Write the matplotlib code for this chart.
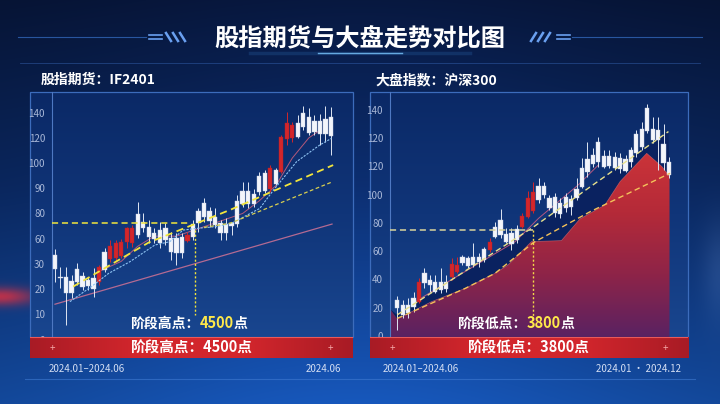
import numpy as np
import matplotlib
matplotlib.use("Agg")
import matplotlib.pyplot as plt
from matplotlib.patches import Rectangle, Polygon
from matplotlib.colors import LinearSegmentedColormap, to_rgb

plt.rcParams['font.family'] = ['Noto Sans CJK SC', 'DejaVu Sans']

W, H = 720, 404

# -----------------------------
# data
# -----------------------------
title = "股指期货与大盘走势对比图"
left_name = "股指期货：IF2401"
right_name = "大盘指数：沪深300"

# left panel: IF2401 candles (axis position units, 10 per tick)
fut_ticks = ['0', '10', '20', '30', '60', '80', '90', '100', '120', '140']
fut_open = [33.5, 24.9, 24.9, 23.2, 28.0, 25.3, 23.6, 24.5, 22.9, 34.8, 31.8, 32.2, 33.3, 38.5, 38.1,
            49.7, 46.5, 44.8, 42.4, 43.4, 44.1, 40.1, 40.1, 40.8, 39.1, 45.7, 51.0, 54.0, 51.0, 48.7,
            46.3, 45.7, 46.3, 55.0, 59.0, 59.0, 57.7, 64.9, 66.2, 59.6, 67.2, 66.6, 79.4, 79.8, 86.0,
            89.7, 88.1, 86.7, 86.7, 87.5, 88.1]
fut_close = [27.8, 24.3, 18.3, 18.3, 22.7, 21.0, 21.3, 20.0, 28.9, 27.6, 37.1, 38.1, 38.5, 44.1, 44.1,
             41.5, 44.1, 40.8, 39.9, 38.1, 39.5, 34.8, 34.4, 34.2, 41.5, 40.8, 46.1, 48.7, 47.0, 45.4,
             42.1, 42.1, 45.2, 45.7, 53.6, 53.6, 53.8, 58.7, 59.0, 67.9, 61.7, 80.5, 86.0, 85.1, 80.5,
             84.4, 81.8, 82.5, 81.4, 81.4, 80.7]
fut_high = [35.9, 28.9, 28.9, 25.6, 30.5, 26.9, 24.9, 28.5, 29.5, 36.4, 39.5, 39.5, 39.9, 44.8, 45.4,
            54.4, 50.1, 47.4, 44.1, 46.7, 46.1, 42.8, 42.1, 42.1, 42.8, 47.4, 52.3, 56.3, 52.7, 52.0,
            47.4, 48.1, 46.7, 57.3, 62.6, 62.6, 59.7, 66.3, 67.2, 69.2, 67.9, 81.1, 90.1, 86.4, 89.1,
            92.8, 91.7, 89.1, 89.3, 92.8, 92.4]
fut_low = [22.9, 20.3, 5.7, 16.3, 21.6, 19.6, 19.6, 17.0, 21.6, 26.9, 30.9, 30.9, 32.2, 36.2, 36.8,
           40.1, 42.8, 38.1, 38.1, 36.2, 37.5, 31.5, 29.5, 32.2, 38.8, 39.5, 42.8, 46.7, 44.8, 44.1,
           39.5, 39.5, 41.5, 44.8, 52.7, 52.0, 52.7, 57.3, 58.0, 58.7, 61.3, 65.9, 77.2, 78.5, 79.8,
           83.1, 81.1, 81.1, 77.2, 78.5, 73.2]
fut_trend_x = [3.3, 17, 31.7, 50.4]
fut_trend_y = [21.0, 38.5, 51.4, 69.2]
fut_trend2_x = [27, 31.7, 50.2]
fut_trend2_y = [44.5, 46.1, 62.5]
fut_ma_x = [2.7, 6.6, 9.7, 13.6, 18.1, 20.8, 23.2, 25.7, 29.3, 32.0, 37.1, 39.6, 43.8, 48.0, 50.1]
fut_ma_y = [15.0, 21.0, 26.2, 30.9, 37.5, 38.8, 43.4, 44.1, 44.8, 46.1, 52.0, 59.3, 70.6, 77.2, 79.8]
fut_ma2_x = [8, 12, 15, 18, 22, 26, 30, 34, 37, 40, 43, 46, 48]
fut_ma2_y = [27, 31, 37, 41, 41, 44, 47, 50, 55, 61, 72, 80, 83]
fut_long_x = [0, 50.2]
fut_long_y = [14.0, 45.8]
fut_level = 46.3
fut_mark_x = 25.4

# right panel: CSI 300 candles (axis position units, 20 per tick)
idx_ticks = ['0', '20', '40', '60', '80', '100', '120', '120', '140']
idx_open = [25.5, 21.9, 21.9, 26.7, 24.3, 44.4, 39.6, 38.5, 38.5, 38.0, 41.5, 45.5, 56.2, 55.4, 56.2,
            56.2, 61.4, 60.9, 77.4, 82.1, 72.2, 72.7, 75.7, 77.4, 84.5, 88.5, 106.4, 106.2, 97.9, 98.6,
            93.9, 98.6, 96.8, 104.1, 119.2, 125.3, 128.1, 137.6, 127.2, 127.2, 127.0, 126.2, 125.3,
            131.7, 142.8, 146.5, 161.2, 146.5, 145.8, 135.7, 123.4]
idx_close = [19.6, 14.9, 16.0, 20.8, 38.0, 37.3, 36.1, 31.4, 32.6, 33.3, 50.7, 50.3, 51.4, 49.8, 50.3,
             52.6, 53.8, 66.8, 70.3, 71.5, 66.8, 64.9, 68.0, 84.9, 97.5, 102.2, 96.3, 99.8, 90.9, 86.8,
             86.1, 90.9, 91.6, 97.5, 105.7, 115.9, 121.5, 122.9, 119.9, 120.6, 119.2, 118.2, 116.8,
             123.4, 129.3, 134.0, 145.1, 138.8, 138.8, 122.2, 114.0]
idx_high = [28.5, 25.5, 26.7, 31.4, 40.8, 48.4, 43.2, 43.2, 47.9, 43.2, 55.4, 56.2, 57.3, 56.9, 66.1,
            58.5, 63.2, 69.1, 80.9, 89.9, 76.2, 76.2, 78.6, 86.8, 102.7, 109.3, 111.6, 109.3, 99.8,
            101.0, 97.5, 101.0, 99.8, 111.6, 125.8, 137.6, 132.9, 141.1, 131.7, 131.7, 130.5, 129.3,
            128.1, 134.0, 145.8, 151.7, 164.0, 155.3, 155.3, 149.8, 127.0]
idx_low = [4.2, 12.5, 12.5, 17.2, 23.1, 33.7, 31.4, 30.2, 30.2, 31.4, 39.6, 44.4, 50.3, 48.4, 49.1,
           49.1, 52.6, 59.7, 69.1, 69.1, 65.6, 60.9, 65.6, 76.2, 83.3, 86.8, 93.9, 97.5, 89.2, 84.5,
           83.3, 88.0, 85.7, 96.3, 104.5, 112.8, 119.9, 119.9, 118.7, 118.7, 117.5, 115.2, 115.9,
           119.9, 127.0, 131.7, 143.5, 136.4, 117.5, 117.5, 111.6]
idx_area_x = [-1.35, 0, 6.3, 12.5, 18, 20.4, 24.7, 30.2, 33.6, 38.2, 41, 45.9, 48.7, 50.1]
idx_area_y = [19, 12, 24.3, 33.7, 44.4, 50.3, 66.8, 67.5, 82.8, 92.7, 109.3, 129.3, 119.9, 113]
idx_up_x = [0, 25, 49.9]
idx_up_y = [15.0, 77.0, 144.7]
idx_lo_x = [0, 12.5, 18, 25, 35.5, 50.2]
idx_lo_y = [12.5, 33.7, 44.4, 66.0, 88.0, 115.2]
idx_ma_x = [3.3, 9.4, 15.5, 21.7, 26, 33.3, 37]
idx_ma_y = [24.3, 38.5, 52.6, 66.8, 83.3, 106.9, 121]
idx_level = 75.0
idx_mark_x = 25.0

fut_label = ("阶段高点：", "4500", "点")
idx_label = ("阶段低点：", "3800", "点")
date_left = ("2024.01–2024.06", "2024.06")
date_right = ("2024.01–2024.06", "2024.01 · 2024.12")

UP = '#d3262b'
DOWN = '#f3f5fb'
YEL = '#f2e53c'


def px(x0, y0, x1, y1):
    return [x0 / W, 1 - y1 / H, (x1 - x0) / W, (y1 - y0) / H]


def draw_candles(ax, o, c, hi, lo):
    x = np.arange(len(o))
    o = np.array(o); c = np.array(c)
    up = c >= o
    cols = np.where(up, UP, DOWN)
    ax.vlines(x, lo, hi, colors=np.where(up, UP, '#dfe6f3'), lw=0.7, zorder=3)
    ax.bar(x, np.maximum(np.abs(c - o), 0.5), bottom=np.minimum(o, c), width=0.78,
           color=cols, edgecolor=np.where(up, '#b81e24', '#c9d2e4'), lw=0.3, zorder=3)


def panel_bg(x0, x1):
    pa = fig.add_axes(px(x0, 92, x1, 337))
    cmap = LinearSegmentedColormap.from_list('pn', ['#0b2966', '#103579', '#19468f'])
    pa.imshow(np.linspace(0, 1, 256)[:, None], aspect='auto', cmap=cmap,
              extent=[0, 1, 0, 1], origin='upper')
    pa.set_xlim(0, 1); pa.set_ylim(0, 1); pa.axis('off')
    pa.add_patch(Rectangle((0, 0), 1, 1, fill=False, ec='#3c6cbc', lw=0.9,
                           transform=pa.transAxes, clip_on=False))


def style_axes(ax, ticks, step, xlim, ylim):
    ax.patch.set_alpha(0)
    for s in ['top', 'right', 'bottom']:
        ax.spines[s].set_visible(False)
    ax.spines['left'].set_color('#4e78c2')
    ax.spines['left'].set_linewidth(0.8)
    ax.set_xlim(*xlim); ax.set_ylim(*ylim)
    ax.set_xticks([])
    ax.set_yticks(np.arange(len(ticks)) * step)
    ax.set_yticklabels(ticks)
    ax.tick_params(axis='y', length=0, pad=5, labelsize=7, labelcolor='#a9b8d8')


def mixed_label(ax, x, y, parts):
    t1 = ax.text(x, y, parts[0], transform=bg.transData, ha='left', va='center',
                 fontsize=10, weight='bold', color='white', zorder=6, clip_on=False)
    t2 = ax.annotate(parts[1], xy=(1, 0), xycoords=t1, ha='left', va='bottom',
                     fontsize=10.5, weight='bold', color='#ffe94a', zorder=6)
    ax.annotate(parts[2], xy=(1, 0), xycoords=t2, ha='left', va='bottom',
                fontsize=10, weight='bold', color='white', zorder=6)


def banner(x0, x1, text):
    ba = fig.add_axes(px(x0, 337, x1, 358))
    cmap = LinearSegmentedColormap.from_list('bn', ['#a81b25', '#d2262c', '#d2262c', '#a81b25'])
    ba.imshow(np.linspace(0, 1, 256)[None, :], aspect='auto', cmap=cmap, extent=[0, 1, 0, 1])
    ba.set_xlim(0, 1); ba.set_ylim(0, 1); ba.axis('off')
    ba.axhline(0.98, color='#e85a5a', lw=0.8)
    ba.text(0.5, 0.5, text, ha='center', va='center', fontsize=10.5, weight='bold', color='white')
    ba.text(0.07, 0.48, '+', ha='center', va='center', fontsize=7, color='#f3a3a3')
    ba.text(0.93, 0.48, '+', ha='center', va='center', fontsize=7, color='#f3a3a3')


fig = plt.figure(figsize=(7.2, 4.04), dpi=100)

# -----------------------------
# background
# -----------------------------
bg = fig.add_axes([0, 0, 1, 1])
yy, xx = np.mgrid[0:H, 0:W]
t = (yy / H)[..., None]
top = np.array(to_rgb('#07163a')); mid = np.array(to_rgb('#0b2a66')); bot = np.array(to_rgb('#1550ab'))
base = np.where(t < 0.45, top + (mid - top) * (t / 0.45), mid + (bot - mid) * ((t - 0.45) / 0.55))
base = base * (0.85 + 0.25 * np.exp(-((xx - 360) / 300.0) ** 2))[..., None]
glow = np.exp(-(xx / 35.0) ** 2 - ((yy - 296) / 9.0) ** 2)[..., None]
base = base + glow * (np.array(to_rgb('#e03040')) - base) * 0.8
base = base + np.exp(-((xx - 720) / 18.0) ** 2 - ((yy - 270) / 50.0) ** 2)[..., None] * 0.08
bg.imshow(np.clip(base, 0, 1), extent=[0, W, H, 0], aspect='auto')
bg.set_xlim(0, W); bg.set_ylim(H, 0); bg.axis('off')

# title and decorations
bg.text(360, 38, title, ha='center', va='center', fontsize=17.5, weight='bold', color='white')
bg.plot([18, 146], [37, 37], color='#3f7fe0', lw=0.8, alpha=0.6)
bg.plot([572, 702], [37, 37], color='#3f7fe0', lw=0.8, alpha=0.6)
for yv in (35.3, 38.7):
    bg.plot([149, 162], [yv, yv], color='#6aa0f0', lw=1.2)
    bg.plot([557, 570], [yv, yv], color='#6aa0f0', lw=1.2)
for xv in (166, 173, 180):
    bg.plot([xv, xv + 5], [33, 41], color='#6aa0f0', lw=1.8)
for xv in (531, 538, 545):
    bg.plot([xv + 5, xv], [33, 41], color='#6aa0f0', lw=1.8)
bg.plot([250, 470], [53, 53], color='#4aa8ff', lw=2.5, alpha=0.15)
bg.plot([318, 402], [53, 53], color='#7cc8ff', lw=1.0, alpha=0.8)
bg.plot([20, 700], [63, 63], color='#3f72c8', lw=0.6, alpha=0.45)
bg.plot([25, 695], [379, 379], color='#3f7ad2', lw=0.8, alpha=0.6)

bg.text(41, 80, left_name, ha='left', va='center', fontsize=10, weight='bold', color='white')
bg.text(376, 80, right_name, ha='left', va='center', fontsize=10, weight='bold', color='white')

bg.text(49, 369, date_left[0], ha='left', va='center', fontsize=7, color='#d3def3')
bg.text(341, 369, date_left[1], ha='right', va='center', fontsize=7, color='#d3def3')
bg.text(383, 369, date_right[0], ha='left', va='center', fontsize=7, color='#d3def3')
bg.text(681, 369, date_right[1], ha='right', va='center', fontsize=7, color='#d3def3')

# -----------------------------
# left panel
# -----------------------------
panel_bg(30, 353)
ax1 = fig.add_axes(px(52, 92, 353, 339.5))
style_axes(ax1, fut_ticks, 10, (-0.54, 54.0), (0, 98.2))
draw_candles(ax1, fut_open, fut_close, fut_high, fut_low)
ax1.plot(fut_long_x, fut_long_y, color='#b46a92', lw=0.9, zorder=2)
ax1.plot(fut_ma2_x, fut_ma2_y, color='#d2607c', lw=0.7, alpha=0.85, zorder=2)
ax1.plot(fut_ma_x, fut_ma_y, color='#8ec3f2', lw=0.8, ls=(0, (2, 1.2)), zorder=4)
ax1.plot(fut_trend2_x, fut_trend2_y, color='#d8cf50', lw=0.9, ls=(0, (3, 2)), zorder=4)
ax1.plot(fut_trend_x, fut_trend_y, color=YEL, lw=1.3, ls=(0, (4, 2.5)), zorder=4)
ax1.plot([-0.5, fut_mark_x - 0.9], [fut_level, fut_level], color=YEL, lw=1.1, ls=(0, (4, 2.5)), zorder=4)
ax1.plot([fut_mark_x, fut_mark_x], [43.4, 9.7], color=YEL, lw=1.0, ls=(0, (1.5, 1.5)), zorder=4)
mixed_label(ax1, 130, 324, fut_label)

# -----------------------------
# right panel
# -----------------------------
panel_bg(370, 688)
ax2 = fig.add_axes(px(390, 92, 688, 337))
style_axes(ax2, idx_ticks, 20, (-1.34, 53.5), (-0.7, 172.7))

band = list(zip(idx_up_x, idx_up_y)) + list(zip(idx_area_x[::-1], idx_area_y[::-1]))
ax2.add_patch(Polygon(band, closed=True, fc='#0a2260', ec='none', zorder=1))
area = list(zip(idx_area_x, idx_area_y)) + [(idx_area_x[-1], -0.7), (idx_area_x[0], -0.7)]
area_poly = Polygon(area, closed=True, fc='none', ec='none')
ax2.add_patch(area_poly)
rcmap = LinearSegmentedColormap.from_list('ar', ['#5a2262', '#8e2448', '#b52a38', '#cc3439'])
im = ax2.imshow(np.linspace(0, 1, 256)[:, None], aspect='auto', cmap=rcmap, origin='lower',
                extent=[-1.34, 53.5, -0.7, 132], zorder=1.5)
im.set_clip_path(area_poly)
ax2.plot(idx_area_x[1:], idx_area_y[1:], color='#e07070', lw=0.5, alpha=0.6, zorder=2)

draw_candles(ax2, idx_open, idx_close, idx_high, idx_low)
ax2.plot(idx_ma_x, idx_ma_y, color='#c65a82', lw=0.7, alpha=0.9, zorder=2.5)
ax2.plot(idx_up_x, idx_up_y, color='#e8e08c', lw=1.0, ls=(0, (4, 2.5)), zorder=4)
ax2.plot(idx_lo_x, idx_lo_y, color='#f4c25a', lw=1.0, ls=(0, (4, 2.5)), zorder=4)
ax2.plot([-1.3, idx_mark_x], [idx_level, idx_level], color='#d9d49c', lw=1.1, ls=(0, (4, 2.5)), zorder=4)
ax2.plot([idx_mark_x, idx_mark_x], [idx_level, 14.5], color='#f2d84a', lw=1.0, ls=(0, (1.5, 1.5)), zorder=4)
mixed_label(ax2, 457, 324, idx_label)

# -----------------------------
# banners
# -----------------------------
banner(30, 353, "".join(fut_label))
banner(370, 688, "".join(idx_label))

fig.savefig("out.png", dpi=100)
